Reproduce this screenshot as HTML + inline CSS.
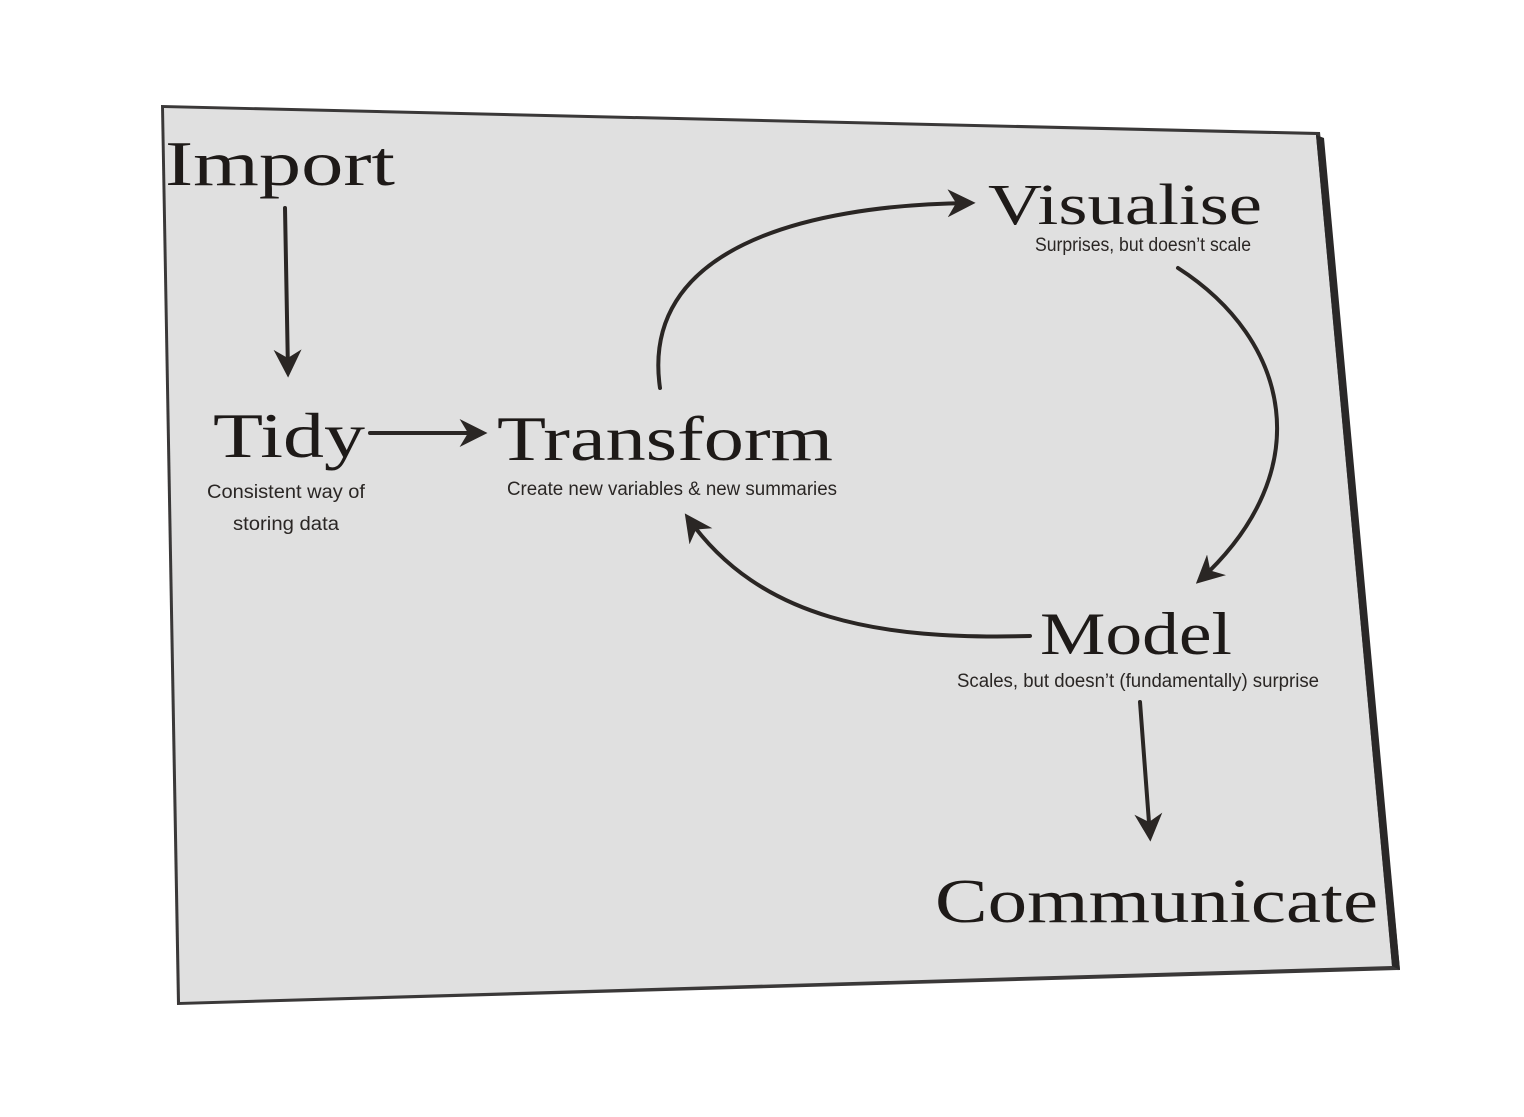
<!DOCTYPE html>
<html><head><meta charset="utf-8"><style>
html,body{margin:0;padding:0;background:#fff;}
svg{display:block}
.big{font-family:"Liberation Serif",serif;fill:#1e1a18;}
.sm{font-family:"Liberation Sans",sans-serif;fill:#2a2624;font-size:19px;}
</style></head><body>
<svg width="1524" height="1117" viewBox="0 0 1524 1117" xmlns="http://www.w3.org/2000/svg">
<defs>
<marker id="a" viewBox="0 0 10 10" refX="8" refY="5" markerWidth="7" markerHeight="7" orient="auto">
<path d="M0,0 L10,5 L0,10 L3,5 z" fill="#2a2624"/></marker>
</defs>
<polygon points="161,105 1320,132 1400,970 177,1005" fill="#3a3838"/>
<polygon points="164,108 1316,135 1392,966 180,1002" fill="#e0e0e0"/>
<polygon points="1316,135 1324,138 1400,970 1392,966" fill="#2a2828"/>
<g stroke="#2a2624" stroke-width="4" fill="none" stroke-linecap="round">
<line x1="285" y1="208" x2="288" y2="372" marker-end="url(#a)"/>
<line x1="370" y1="433" x2="482" y2="433" marker-end="url(#a)"/>
<path d="M660,388 C640,250 800,205 970,203" marker-end="url(#a)"/>
<path d="M1178,268 C1290,340 1320,470 1200,580" marker-end="url(#a)"/>
<path d="M1030,636 C880,640 760,620 688,518" marker-end="url(#a)"/>
<line x1="1140" y1="702" x2="1150" y2="836" marker-end="url(#a)"/>
</g>
<text class="big" x="165" y="185" font-size="64" textLength="230" lengthAdjust="spacingAndGlyphs">Import</text>
<text class="big" x="213" y="457" font-size="64" textLength="152" lengthAdjust="spacingAndGlyphs">Tidy</text>
<text class="big" x="497" y="460" font-size="64" textLength="336" lengthAdjust="spacingAndGlyphs">Transform</text>
<text class="big" x="988" y="224" font-size="58" textLength="274" lengthAdjust="spacingAndGlyphs">Visualise</text>
<text class="big" x="1040" y="654" font-size="60" textLength="192" lengthAdjust="spacingAndGlyphs">Model</text>
<text class="big" x="935" y="922" font-size="62" textLength="443" lengthAdjust="spacingAndGlyphs">Communicate</text>
<text class="sm" x="207" y="498" textLength="158" lengthAdjust="spacingAndGlyphs">Consistent way of</text>
<text class="sm" x="233" y="530" textLength="106" lengthAdjust="spacingAndGlyphs">storing data</text>
<text class="sm" x="507" y="495" textLength="330" lengthAdjust="spacingAndGlyphs">Create new variables &amp; new summaries</text>
<text class="sm" x="1035" y="251" font-size="18" textLength="216" lengthAdjust="spacingAndGlyphs">Surprises, but doesn’t scale</text>
<text class="sm" x="957" y="687" textLength="362" lengthAdjust="spacingAndGlyphs">Scales, but doesn’t (fundamentally) surprise</text>
</svg>
</body></html>
